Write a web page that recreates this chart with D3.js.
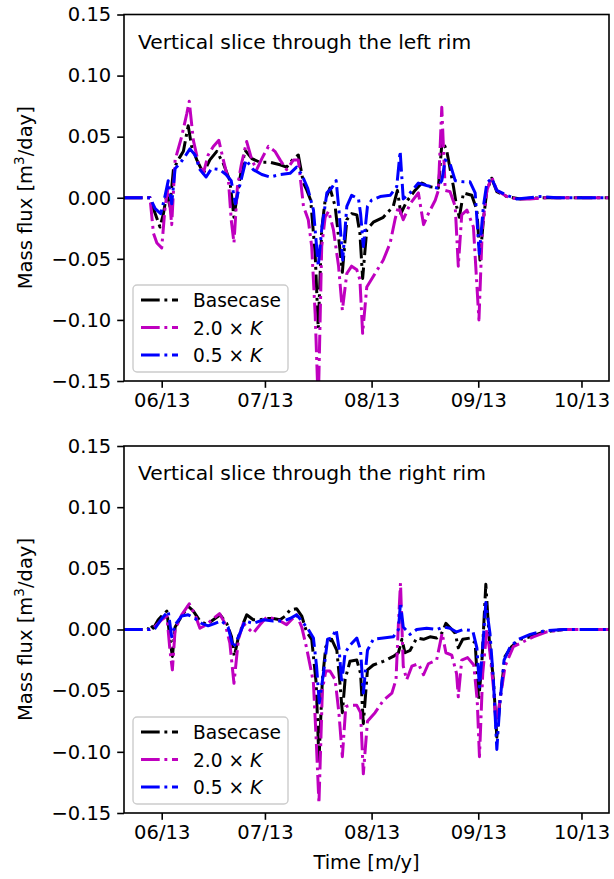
<!DOCTYPE html>
<html>
<head>
<meta charset="utf-8">
<script src="https://cdn.jsdelivr.net/npm/d3@7"></script>
<style>
  body { margin: 0; background: #fff; }
  text { font-family: "DejaVu Sans", sans-serif; }
</style>
</head>
<body>
<div id="chart"></div>
<script>
// days counted from 2013-06-01, values in m3/day
const leftBase = [[-11,0],[-3.4,0],[-2.4,-0.009],[-0.5,-0.024],[0.5,-0.013],[1.5,0.004],[2.4,-0.007],[3.4,0.023],[4.8,0.031],[6.3,0.038],[7.7,0.059],[8.7,0.042],[10.2,0.031],[12.1,0.020],[14.0,0.031],[16.0,0.038],[17.9,0.028],[19.8,0.014],[21.0,-0.016],[22.3,0.009],[24.2,0.039],[26.2,0.032],[28.6,0.029],[31.5,0.029],[34.4,0.027],[36.3,0.025],[38.3,0.032],[39.7,0.035],[41.2,0.012],[42.2,0.006],[43.3,-0.002],[44.6,-0.046],[45.5,-0.107],[46.5,-0.026],[47.5,-0.002],[48.9,0.008],[50.4,-0.007],[51.4,-0.032],[52.5,-0.061],[53.8,-0.018],[55.2,-0.013],[56.7,-0.014],[57.6,-0.029],[58.4,-0.066],[59.6,-0.026],[61.5,-0.020],[64.4,-0.016],[67.3,-0.007],[68.5,0.006],[69.5,-0.013],[71.2,-0.003],[73.6,0.006],[75.6,0.012],[78.0,0.009],[80.4,0.008],[81.5,0.047],[82.8,0.039],[84.8,0.009],[85.7,-0.007],[86.5,-0.016],[87.7,0.004],[90.1,0.002],[91.6,-0.010],[92.5,-0.051],[93.5,-0.018],[94.5,0.006],[95.9,0.016],[97.4,0.005],[100.3,0.001],[104.2,-0.001],[110,0],[131,0]];
const leftHigh = [[-11,0],[-3.4,0],[-2.4,-0.029],[-1.4,-0.037],[0,-0.041],[1.0,-0.007],[1.9,0.009],[2.9,-0.022],[3.9,0.031],[5.8,0.050],[7.3,0.069],[8.0,0.079],[9.2,0.047],[10.7,0.028],[12.1,0.020],[13.5,0.035],[15.0,0.042],[16.6,0.047],[17.9,0.031],[19.4,0.014],[20.2,-0.018],[21.0,-0.037],[22.0,0.009],[23.2,0.028],[24.7,0.046],[26.2,0.031],[27.6,0.023],[29.1,0.032],[31.0,0.042],[32.9,0.038],[34.4,0.031],[36.3,0.023],[38.3,0.031],[39.7,0.031],[41.2,-0.007],[42.6,-0.018],[43.6,-0.040],[44.6,-0.095],[45.5,-0.17],[46.5,-0.040],[47.5,-0.016],[48.5,-0.011],[49.9,-0.026],[51.4,-0.056],[52.5,-0.092],[53.8,-0.062],[55.2,-0.056],[56.7,-0.059],[57.6,-0.067],[58.4,-0.111],[59.6,-0.073],[62.0,-0.062],[64.4,-0.051],[66.4,-0.037],[67.8,-0.018],[68.8,-0.007],[70.2,-0.018],[72.2,-0.005],[74.6,0.004],[76.1,-0.022],[77.5,-0.013],[79.5,-0.002],[80.4,0.006],[81.4,0.074],[82.4,0.006],[83.8,0.005],[85.3,-0.007],[86.2,-0.056],[87.2,-0.014],[88.7,-0.010],[90.6,-0.024],[92.2,-0.100],[93.2,-0.024],[94.5,0.006],[95.9,0.017],[97.4,0.006],[100.3,0.001],[103.2,-0.001],[107,-0.001],[112,0],[131,0]];
const leftLow = [[-11,0],[-3.4,0],[-1.9,-0.009],[-0.3,-0.013],[0.7,-0.002],[1.9,0.014],[2.9,-0.005],[3.9,0.024],[5.3,0.028],[6.8,0.034],[8.2,0.040],[9.7,0.035],[11.1,0.023],[12.9,0.017],[14.5,0.024],[16.9,0.023],[18.7,0.019],[20.2,0.014],[21.4,-0.005],[22.6,0.009],[24.5,0.031],[26.6,0.023],[29.1,0.019],[31.5,0.017],[34.4,0.019],[37.3,0.020],[39.2,0.025],[40.7,0.019],[42.4,0.008],[44.1,-0.010],[45.5,-0.056],[46.5,-0.026],[48.0,0.004],[49.4,0.008],[50.7,0.014],[51.6,-0.013],[52.6,-0.051],[53.8,-0.007],[55.2,0.002],[57.2,-0.001],[57.8,-0.013],[58.6,-0.040],[59.8,-0.007],[61.0,-0.002],[63.5,0.001],[66.4,0.002],[68.3,0.009],[69.3,0.038],[70.2,-0.001],[72.2,0.004],[74.6,0.012],[77.0,0.010],[80.0,0.008],[81.4,0.014],[82.4,0.031],[83.8,0.028],[85.3,0.014],[87.7,0.013],[89.6,0.013],[91.1,0.004],[92.3,-0.046],[93.5,-0.007],[94.5,0.012],[95.9,0.016],[97.4,0.006],[100.3,0.002],[103.2,-0.001],[110,0.001],[114.8,0],[131,0]];

const rightBase = [[-11,0],[-4,0],[-3.4,0.004],[-2.4,0.001],[-1.0,0.008],[0,0.011],[1.5,0.015],[2.4,-0.008],[3.1,-0.022],[3.9,0.002],[5.8,0.011],[7.7,0.019],[9.2,0.015],[11.1,0.007],[13.1,0.004],[15.0,0.008],[17.0,0.012],[18.9,0.005],[20.3,-0.006],[21.1,-0.022],[22.3,-0.006],[23.7,0.005],[24.7,0.012],[26.6,0.008],[28.6,0.008],[30.5,0.009],[32.4,0.009],[34.4,0.008],[35.9,0.011],[37.3,0.016],[39.2,0.017],[40.7,0.011],[42.1,-0.002],[43.6,-0.008],[44.9,-0.044],[45.7,-0.107],[46.7,-0.041],[47.7,-0.014],[49.4,-0.008],[50.9,-0.017],[51.8,-0.044],[52.5,-0.068],[53.3,-0.041],[54.7,-0.026],[56.7,-0.025],[57.8,-0.036],[58.6,-0.077],[59.8,-0.033],[61.5,-0.029],[64.4,-0.026],[67.3,-0.022],[68.8,-0.019],[69.8,-0.008],[70.7,-0.019],[72.2,-0.017],[74.1,-0.007],[76.1,-0.008],[78.0,-0.006],[79.9,-0.007],[81.4,-0.003],[82.6,0.005],[84.3,0.000],[85.3,-0.003],[86.2,-0.015],[87.5,-0.008],[89.6,-0.007],[91.1,-0.011],[92.1,-0.058],[93.0,-0.030],[94.2,0.037],[95.2,-0.008],[96.4,-0.041],[97.4,-0.088],[98.3,-0.058],[99.8,-0.022],[101.7,-0.014],[104.2,-0.008],[107.1,-0.006],[111.0,-0.002],[116.8,0],[131,0]];
const rightHigh = [[-11,0],[-3.4,0],[-2.4,0.001],[0,0.008],[1.5,0.011],[2.4,-0.017],[3.1,-0.033],[3.9,0.000],[5.8,0.012],[8.0,0.021],[9.7,0.012],[11.1,0.001],[13.1,0.004],[15.0,0.009],[16.8,0.013],[18.4,0.005],[19.8,-0.011],[21.0,-0.044],[22.3,-0.008],[23.7,0.005],[25.1,0.001],[26.6,-0.003],[28.6,0.004],[30.5,0.010],[32.4,0.009],[34.4,0.007],[36.3,0.004],[37.7,0.008],[39.2,0.012],[40.7,0.002],[42.1,-0.015],[43.6,-0.036],[44.1,-0.044],[44.9,-0.090],[45.7,-0.142],[46.7,-0.049],[47.7,-0.034],[48.9,-0.034],[50.4,-0.041],[51.5,-0.068],[52.5,-0.104],[53.5,-0.063],[54.7,-0.062],[56.7,-0.062],[57.8,-0.068],[58.6,-0.118],[59.8,-0.075],[62.0,-0.068],[64.4,-0.058],[66.9,-0.052],[68.1,-0.041],[68.8,0.005],[69.4,0.038],[70.2,-0.030],[71.2,-0.041],[72.7,-0.030],[74.6,-0.028],[76.1,-0.037],[77.5,-0.028],[79.9,-0.025],[81.5,-0.003],[82.6,-0.019],[84.3,-0.021],[85.7,-0.036],[86.2,-0.055],[87.2,-0.025],[88.9,-0.023],[90.7,-0.029],[91.7,-0.058],[92.35,-0.104],[93.3,-0.036],[94.5,0.000],[95.4,-0.019],[96.4,-0.047],[97.2,-0.079],[98.3,-0.058],[99.8,-0.030],[102.2,-0.014],[105.1,-0.010],[108.0,-0.006],[111.9,-0.002],[116.8,0],[131,0]];
const rightLow = [[-11,0],[-3.4,0],[-1.9,0.001],[0,0.009],[1.9,0.015],[2.9,-0.006],[3.9,0.004],[5.8,0.011],[7.7,0.012],[9.7,0.009],[11.6,0.005],[13.5,0.003],[15.5,0.005],[17.4,0.007],[19.3,0.002],[20.8,-0.015],[22.3,-0.006],[24.2,0.007],[26.6,0.005],[29.6,0.008],[32.4,0.007],[35.4,0.007],[37.3,0.009],[39.2,0.012],[40.7,0.007],[42.6,0.000],[44.1,-0.007],[45.0,-0.030],[45.8,-0.060],[47.0,-0.036],[48.2,-0.008],[49.4,-0.007],[50.7,0.000],[51.6,-0.017],[52.3,-0.044],[53.3,-0.019],[54.7,-0.013],[56.7,-0.007],[57.8,-0.017],[58.6,-0.052],[59.8,-0.017],[61.5,-0.008],[64.4,-0.007],[67.3,-0.006],[68.8,0.000],[69.4,0.022],[70.2,0.002],[72.2,-0.004],[74.1,0.000],[77.0,0.001],[79.9,0.000],[81.8,0.002],[83.8,0.001],[85.7,-0.002],[87.7,0.000],[90.4,-0.001],[91.6,-0.015],[92.35,-0.047],[93.2,-0.018],[94.2,0.022],[95.4,-0.003],[96.4,-0.041],[97.4,-0.098],[98.3,-0.060],[99.5,-0.025],[101.3,-0.014],[103.7,-0.008],[107.1,-0.004],[111.4,-0.001],[116.8,0],[131,0]];

const seriesNames = ["Basecase", "2.0", "0.5"];
const seriesColors = ["#000000", "#bf00bf", "#0000ff"];
const yTicks = [-0.15, -0.10, -0.05, 0.00, 0.05, 0.10, 0.15];
const monthTicks = ["2013-06-01", "2013-07-01", "2013-08-01", "2013-09-01", "2013-10-01"];
const titles = ["Vertical slice through the left rim", "Vertical slice through the right rim"];

const W = 614, H = 879;
const fs = 19.5;
const start = new Date(2013, 5, 1);
const toDate = d => new Date(start.getTime() + d * 86400000);

const svg = d3.select("#chart").append("svg")
  .attr("width", W).attr("height", H);

const x = d3.scaleTime()
  .domain([toDate(-10.96), toDate(130.0)])
  .range([124, 609]);

const panels = [
  {top: 14.5, bottom: 381, data: [leftBase, leftHigh, leftLow], title: titles[0]},
  {top: 446, bottom: 813, data: [rightBase, rightHigh, rightLow], title: titles[1]}
];

const fmt = d3.format(".2f");

panels.forEach((p, pi) => {
  const y = d3.scaleLinear().domain([-0.15, 0.15]).range([p.bottom, p.top]);
  const g = svg.append("g");

  g.append("clipPath").attr("id", "clip" + pi)
    .append("rect")
      .attr("x", 124).attr("y", p.top)
      .attr("width", 485).attr("height", p.bottom - p.top);

  const line = d3.line()
    .x(d => x(toDate(d[0])))
    .y(d => y(d[1]));

  p.data.forEach((s, i) => {
    g.append("path")
      .datum(s)
      .attr("clip-path", "url(#clip" + pi + ")")
      .attr("d", line)
      .attr("fill", "none")
      .attr("stroke", seriesColors[i])
      .attr("stroke-width", 3)
      .attr("stroke-linejoin", "round")
      .attr("stroke-dasharray", "18.7,4.7,2.9,4.7");
  });

  // axes
  const yAxis = g.append("g")
    .attr("transform", "translate(124,0)")
    .call(d3.axisLeft(y).tickValues(yTicks).tickSize(6.8).tickPadding(6)
      .tickFormat(v => fmt(v).replace("-", "\u2212")));
  const xAxis = g.append("g")
    .attr("transform", "translate(0," + p.bottom + ")")
    .call(d3.axisBottom(x).tickValues(monthTicks.map(s => d3.timeParse("%Y-%m-%d")(s)))
      .tickSize(6.8).tickPadding(5).tickFormat(d3.timeFormat("%m/%y")));
  [yAxis, xAxis].forEach(a => {
    a.select(".domain").remove();
    a.selectAll("line").attr("stroke", "#000").attr("stroke-width", 1.6);
    a.selectAll("text").attr("font-size", fs).attr("fill", "#000")
      .style("font-family", "DejaVu Sans");
  });

  g.append("rect")
    .attr("x", 124).attr("y", p.top)
    .attr("width", 485).attr("height", p.bottom - p.top)
    .attr("fill", "none").attr("stroke", "#000").attr("stroke-width", 1.6);

  g.append("text")
    .attr("x", 138).attr("y", p.top + 34)
    .attr("font-size", 20.3)
    .text(p.title);

  g.append("text")
    .attr("transform", "translate(32," + ((p.top + p.bottom) / 2) + ")rotate(-90)")
    .attr("text-anchor", "middle")
    .attr("font-size", fs)
    .html("Mass flux [m<tspan baseline-shift='super' font-size='" + (fs * 0.7) + "'>3</tspan>/day]");

  // legend
  const lg = g.append("g").attr("transform", "translate(133," + (p.bottom - 96) + ")");
  lg.append("rect")
    .attr("width", 155).attr("height", 87).attr("rx", 4)
    .attr("fill", "#fff").attr("fill-opacity", 0.8)
    .attr("stroke", "#cccccc").attr("stroke-width", 1.4);
  seriesNames.forEach((n, i) => {
    const ly = 15 + i * 27.5;
    lg.append("line")
      .attr("x1", 8).attr("x2", 45).attr("y1", ly).attr("y2", ly)
      .attr("stroke", seriesColors[i]).attr("stroke-width", 3)
      .attr("stroke-dasharray", "18.7,4.7,2.9,4.7");
    const t = lg.append("text")
      .attr("x", 60).attr("y", ly + 7)
      .attr("font-size", 18.6);
    if (i === 0) t.text(n);
    else {
      t.append("tspan").text(n + " \u00d7 ");
      t.append("tspan").attr("font-style", "italic").text("K");
    }
  });
});

svg.append("text")
  .attr("x", 366.5).attr("y", 869)
  .attr("text-anchor", "middle")
  .attr("font-size", fs)
  .text("Time [m/y]");
</script>
</body>
</html>
